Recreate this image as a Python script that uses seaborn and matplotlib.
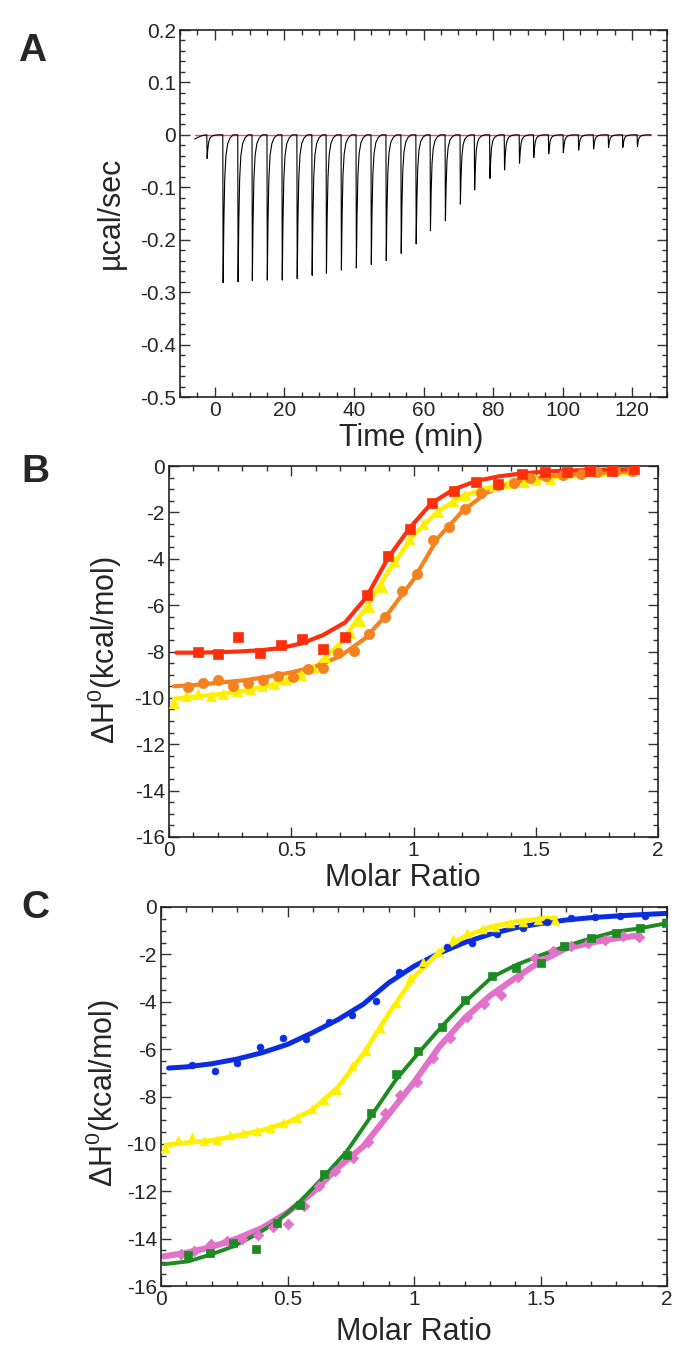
import numpy as np
import pandas as pd
import matplotlib
matplotlib.use("Agg")
import matplotlib.pyplot as plt
from matplotlib.ticker import MultipleLocator, FuncFormatter
import seaborn as sns

# ---- Panel A: raw ITC thermogram (injection times in min, peak heights in ucal/sec)
inj_time = [-2.3, 2.3, 6.6, 10.7, 15.0, 19.3, 23.6, 27.9, 32.0, 36.3, 40.6, 44.9, 49.2, 53.5,
            57.8, 61.9, 66.2, 70.5, 74.6, 79.0, 83.2, 87.5, 91.6, 95.9, 100.1, 104.5, 108.8,
            113.1, 117.2, 121.4]
inj_peak = [-0.045, -0.282, -0.28, -0.278, -0.277, -0.277, -0.274, -0.268, -0.264, -0.258,
            -0.254, -0.247, -0.24, -0.226, -0.208, -0.183, -0.164, -0.132, -0.105, -0.083,
            -0.067, -0.054, -0.043, -0.036, -0.034, -0.029, -0.027, -0.024, -0.024, -0.022]
# shape of one injection spike: minutes after injection, fraction of the peak height
spike_dt = [0.0, 0.1, 0.3, 0.55, 0.9, 1.4, 2.1, 3.0]
spike_frac = [0.0, 1.0, 0.6, 0.3, 0.14, 0.06, 0.02, 0.0]
pre_time = [-5.8, -4.6, -3.4]
pre_val = [-0.008, -0.004, -0.001]
end_time = 125.4

# ---- Panel B
b_red_x = [0.117, 0.199, 0.284, 0.371, 0.457, 0.543, 0.628, 0.720, 0.808, 0.894, 0.986, 1.074,
           1.166, 1.256, 1.347, 1.443, 1.538, 1.626, 1.720, 1.810, 1.900]
b_red_y = [-8.03, -8.12, -7.38, -8.05, -7.72, -7.46, -7.89, -7.38, -5.56, -3.86, -2.72, -1.61,
           -1.06, -0.68, -0.78, -0.34, -0.24, -0.24, -0.22, -0.20, -0.15]
b_red_fit_x = [0.03, 0.117, 0.199, 0.284, 0.371, 0.457, 0.543, 0.628, 0.720, 0.808, 0.894, 0.986,
               1.074, 1.166, 1.256, 1.347, 1.443, 1.538, 1.626, 1.720, 1.810, 1.900]
b_red_fit_y = [-8.05, -8.05, -8.03, -8.0, -7.95, -7.85, -7.65, -7.3, -6.75, -5.65, -4.0, -2.65,
               -1.6, -1.0, -0.65, -0.45, -0.32, -0.24, -0.2, -0.17, -0.15, -0.14]

b_yel_x = [0.02, 0.07, 0.12, 0.17, 0.22, 0.28, 0.33, 0.38, 0.43, 0.48, 0.54, 0.59, 0.64, 0.69,
           0.74, 0.78, 0.82, 0.87, 0.92, 0.98, 1.04, 1.10, 1.16, 1.21, 1.27, 1.33, 1.39, 1.45,
           1.50, 1.56]
b_yel_y = [-10.2, -9.9, -9.85, -9.9, -9.85, -9.7, -9.6, -9.5, -9.4, -9.25, -9.0, -8.7, -8.25,
           -7.8, -7.2, -6.7, -6.1, -5.2, -4.1, -3.15, -2.5, -2.0, -1.5, -1.25, -1.0, -0.85, -0.75,
           -0.67, -0.6, -0.55]
b_yel_fit_x = [0.02, 0.1, 0.2, 0.3, 0.4, 0.5, 0.6, 0.7, 0.8, 0.9, 1.0, 1.1, 1.2, 1.3, 1.4, 1.5,
               1.6, 1.7, 1.8, 1.9]
b_yel_fit_y = [-10.05, -9.95, -9.85, -9.7, -9.5, -9.2, -8.65, -7.65, -6.2, -4.5, -3.0, -1.95,
               -1.3, -0.95, -0.72, -0.58, -0.48, -0.4, -0.35, -0.32]

b_org_x = [0.079, 0.14, 0.202, 0.26, 0.322, 0.383, 0.444, 0.506, 0.57, 0.628, 0.693, 0.757,
           0.82, 0.883, 0.952, 1.013, 1.078, 1.145, 1.211, 1.276, 1.344, 1.412, 1.476, 1.54,
           1.61, 1.685, 1.75, 1.824, 1.892]
b_org_y = [-9.54, -9.37, -9.22, -9.47, -9.37, -9.22, -9.05, -9.08, -8.75, -8.72, -8.05, -7.97,
           -7.26, -6.5, -5.37, -4.66, -3.19, -2.64, -1.85, -1.18, -0.82, -0.75, -0.53, -0.45,
           -0.38, -0.34, -0.27, -0.22, -0.22]
b_org_fit_x = [0.02, 0.1, 0.2, 0.3, 0.4, 0.5, 0.6, 0.7, 0.8, 0.9, 1.0, 1.1, 1.2, 1.3, 1.4, 1.5,
               1.6, 1.7, 1.8, 1.9]
b_org_fit_y = [-9.5, -9.45, -9.35, -9.25, -9.1, -8.9, -8.65, -8.2, -7.45, -6.3, -4.9, -3.1,
               -1.95, -1.15, -0.75, -0.52, -0.4, -0.32, -0.27, -0.24]

# ---- Panel C
c_blu_x = [0.121, 0.213, 0.302, 0.391, 0.481, 0.572, 0.664, 0.756, 0.85, 0.942, 1.033, 1.13,
           1.23, 1.33, 1.43, 1.524, 1.619, 1.715, 1.814, 1.913]
c_blu_y = [-6.69, -6.92, -6.57, -5.92, -5.54, -5.57, -4.84, -4.56, -3.97, -2.73, -2.41, -1.7,
           -1.5, -1.15, -0.9, -0.65, -0.45, -0.42, -0.4, -0.38]
c_blu_fit_x = [0.03, 0.1, 0.2, 0.3, 0.4, 0.5, 0.6, 0.7, 0.8, 0.9, 1.0, 1.1, 1.2, 1.3, 1.4, 1.5,
               1.6, 1.7, 1.8, 1.9, 2.0]
c_blu_fit_y = [-6.8, -6.75, -6.62, -6.42, -6.15, -5.8, -5.3, -4.75, -4.1, -3.2, -2.5, -1.95,
               -1.5, -1.15, -0.88, -0.7, -0.55, -0.45, -0.38, -0.32, -0.27]

c_yel_x = [0.016, 0.068, 0.121, 0.171, 0.223, 0.273, 0.326, 0.378, 0.431, 0.484, 0.536, 0.596,
           0.644, 0.697, 0.754, 0.81, 0.866, 0.928, 0.984, 1.037, 1.096, 1.153, 1.208, 1.268,
           1.32, 1.38, 1.432, 1.49, 1.557]
c_yel_y = [-10.18, -9.83, -9.73, -9.86, -9.83, -9.62, -9.55, -9.45, -9.34, -9.1, -8.92, -8.54,
           -8.14, -7.72, -6.7, -6.1, -5.12, -4.06, -3.01, -2.31, -1.89, -1.36, -1.11, -0.94,
           -0.83, -0.69, -0.62, -0.55, -0.55]
c_yel_fit_x = [0.02, 0.1, 0.2, 0.3, 0.4, 0.5, 0.6, 0.7, 0.8, 0.9, 1.0, 1.1, 1.2, 1.3, 1.4, 1.5,
               1.56]
c_yel_fit_y = [-10.05, -9.95, -9.85, -9.65, -9.42, -9.1, -8.55, -7.6, -6.2, -4.5, -2.95, -1.9,
               -1.25, -0.85, -0.62, -0.5, -0.45]

c_grn_x = [0.108, 0.194, 0.286, 0.374, 0.46, 0.55, 0.644, 0.734, 0.829, 0.928, 1.017, 1.109,
           1.202, 1.307, 1.403, 1.502, 1.594, 1.70, 1.798, 1.893, 1.996]
c_grn_y = [-14.68, -14.61, -14.19, -14.44, -13.32, -12.6, -11.28, -10.46, -8.7, -7.06, -6.1,
           -5.05, -3.92, -2.91, -2.59, -2.38, -1.65, -1.3, -1.08, -0.9, -0.69]
c_grn_fit_x = [0.01, 0.108, 0.194, 0.286, 0.374, 0.46, 0.55, 0.644, 0.734, 0.829, 0.928, 1.017,
               1.109, 1.202, 1.307, 1.403, 1.502, 1.594, 1.70, 1.798, 1.893, 1.996]
c_grn_fit_y = [-15.08, -14.96, -14.68, -14.33, -13.84, -13.28, -12.43, -11.38, -10.32, -8.85,
               -7.3, -6.17, -5.05, -4.0, -2.97, -2.45, -2.03, -1.67, -1.32, -1.04, -0.9, -0.69]

c_pnk_x = [0.078, 0.132, 0.196, 0.26, 0.32, 0.382, 0.444, 0.503, 0.565, 0.626, 0.688, 0.758,
           0.82, 0.885, 0.945, 1.01, 1.076, 1.142, 1.208, 1.275, 1.343, 1.412, 1.478, 1.551,
           1.619, 1.686, 1.755, 1.825, 1.891]
c_pnk_y = [-14.64, -14.54, -14.22, -14.12, -14.0, -13.84, -13.49, -13.38, -12.62, -11.77, -11.13,
           -10.6, -9.9, -8.7, -7.93, -7.4, -6.38, -5.54, -4.63, -4.1, -3.71, -2.97, -2.14, -1.86,
           -1.63, -1.53, -1.39, -1.22, -1.25]
c_pnk_fit_x = [0.01, 0.1, 0.2, 0.3, 0.4, 0.5, 0.6, 0.7, 0.8, 0.9, 1.0, 1.1, 1.2, 1.3, 1.4, 1.5,
               1.6, 1.7, 1.8, 1.89]
c_pnk_fit_y = [-14.75, -14.6, -14.35, -14.0, -13.55, -12.9, -12.05, -11.0, -10.1, -8.75, -7.4,
               -5.9, -4.7, -3.75, -3.0, -2.3, -1.75, -1.5, -1.32, -1.2]

RED, YEL, ORG = "#ff2f0c", "#fff000", "#f4821f"
BLU, GRN, PNK = "#0a2de0", "#1b8b22", "#e171c9"

sns.set_style("ticks")
plt.rcParams["font.family"] = ["Liberation Sans", "DejaVu Sans"]
plt.rcParams["mathtext.fontset"] = "custom"
plt.rcParams["mathtext.rm"] = "Liberation Sans"
plt.rcParams["mathtext.it"] = "Liberation Sans:italic"
plt.rcParams["axes.unicode_minus"] = False

W, H = 700, 1350
fig = plt.figure(figsize=(W / 100, H / 100), dpi=100)


def box(l, t, r, b):
    return fig.add_axes([l / W, 1 - b / H, (r - l) / W, (b - t) / H])


def style(ax, xmaj, xmin, ymaj, ymin):
    ax.xaxis.set_major_locator(MultipleLocator(xmaj))
    ax.xaxis.set_minor_locator(MultipleLocator(xmin))
    ax.yaxis.set_major_locator(MultipleLocator(ymaj))
    ax.yaxis.set_minor_locator(MultipleLocator(ymin))
    fmt = FuncFormatter(lambda v, p: "%g" % round(v, 6))
    ax.xaxis.set_major_formatter(fmt)
    ax.yaxis.set_major_formatter(fmt)
    ax.tick_params(which="both", direction="in", top=True, right=True, color="#333333",
                   labelsize=15, width=1.0)
    ax.tick_params(which="major", length=7, pad=3)
    ax.tick_params(which="minor", length=3.5)
    for s in ax.spines.values():
        s.set_linewidth(1.2)
        s.set_color("#222222")
    ax.set_xlabel("")
    ax.set_ylabel("")


# ---- A
rows = [(t, v) for t, v in zip(pre_time, pre_val)]
for t0, pk in zip(inj_time, inj_peak):
    for dt, fr in zip(spike_dt, spike_frac):
        rows.append((t0 + dt, pk * fr))
rows.append((end_time, 0.0))
dfa = pd.DataFrame(rows, columns=["time", "power"])
base = pd.DataFrame({"time": [dfa["time"].min(), dfa["time"].max()], "power": [0.0, 0.0]})

axA = box(180, 30, 667, 397)
sns.lineplot(data=base, x="time", y="power", color="#e8505a", lw=1.0, ax=axA)
sns.lineplot(data=dfa, x="time", y="power", estimator=None, sort=False, color="black",
             lw=0.8, ax=axA)
axA.set_xlim(-10, 130)
axA.set_ylim(-0.5, 0.2)
style(axA, 20, 5, 0.1, 0.02)


def fit_and_points(ax, fx, fy, px, py, color, marker, size, lw):
    sns.lineplot(x=fx, y=fy, color=color, lw=lw, estimator=None, sort=False, ax=ax)
    sns.scatterplot(x=px, y=py, color=color, marker=marker, s=size, edgecolor=color,
                    linewidth=0.5, ax=ax, zorder=3)


# ---- B
axB = box(169, 466, 658, 837)
fit_and_points(axB, b_yel_fit_x, b_yel_fit_y, b_yel_x, b_yel_y, YEL, "^", 55, 3.2)
fit_and_points(axB, b_org_fit_x, b_org_fit_y, b_org_x, b_org_y, ORG, "o", 55, 3.0)
fit_and_points(axB, b_red_fit_x, b_red_fit_y, b_red_x, b_red_y, RED, "s", 55, 3.0)
axB.set_xlim(0, 2)
axB.set_ylim(-16, 0)
style(axB, 0.5, 0.1, 2, 0.5)

# ---- C
axC = box(161, 907, 667, 1286)
fit_and_points(axC, c_blu_fit_x, c_blu_fit_y, c_blu_x, c_blu_y, BLU, "o", 24, 3.6)
fit_and_points(axC, c_yel_fit_x, c_yel_fit_y, c_yel_x, c_yel_y, YEL, "^", 40, 3.4)
fit_and_points(axC, c_pnk_fit_x, c_pnk_fit_y, c_pnk_x, c_pnk_y, PNK, "D", 30, 4.4)
fit_and_points(axC, c_grn_fit_x, c_grn_fit_y, c_grn_x, c_grn_y, GRN, "s", 26, 2.8)
axC.set_xlim(0, 2)
axC.set_ylim(-16, 0)
style(axC, 0.5, 0.1, 2, 0.5)


# ---- labels
def ftext(x, y, s, va="center", **kw):
    fig.text(x / W, 1 - y / H, s, ha="center", va=va, **kw)


ftext(32, 51, "A", fontsize=28, fontweight="bold")
ftext(35, 472, "B", fontsize=28, fontweight="bold")
ftext(35, 908, "C", fontsize=28, fontweight="bold")
ftext(411, 446, "Time (min)", va="baseline", fontsize=22)
ftext(403, 886, "Molar Ratio", va="baseline", fontsize=22)
ftext(414, 1340, "Molar Ratio", va="baseline", fontsize=22)
ftext(111, 213, "\u00b5cal/sec", fontsize=22, rotation=90)
ftext(105, 650, r"$\Delta$H$^{0}$(kcal/mol)", fontsize=22, rotation=90)
ftext(103, 1093, r"$\Delta$H$^{0}$(kcal/mol)", fontsize=22, rotation=90)

fig.savefig("out.png", dpi=100)
